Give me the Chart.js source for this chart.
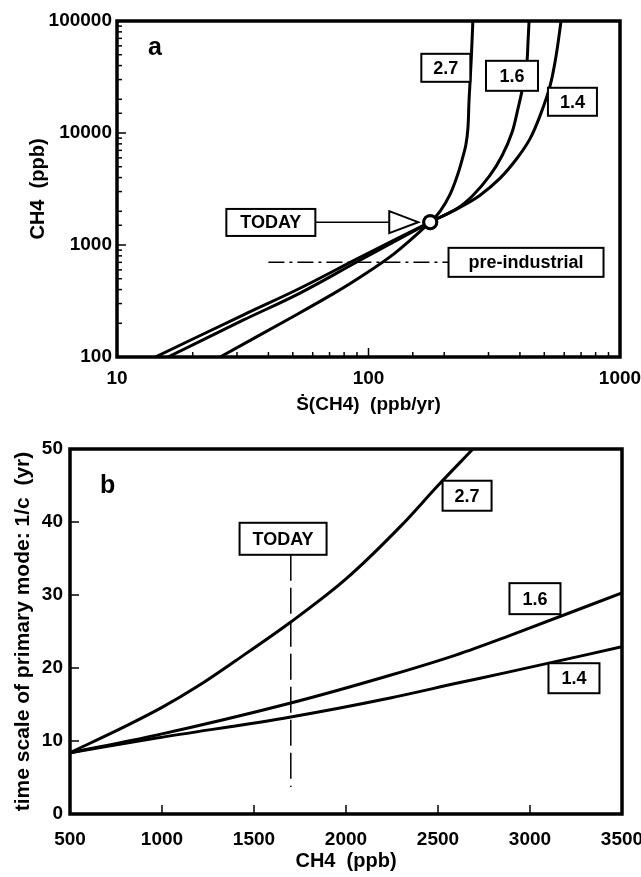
<!DOCTYPE html>
<html>
<head>
<meta charset="utf-8">
<script src="https://cdn.jsdelivr.net/npm/chart.js@4.4.1/dist/chart.umd.min.js"></script>
<style>
  body { margin: 0; background: #fff; }
  canvas { position: absolute; left: 0; }
  #chartA { top: 0; }
  #chartB { top: 420px; }
</style>
</head>
<body>
<canvas id="chartA" width="641" height="420"></canvas>
<canvas id="chartB" width="641" height="457"></canvas>
<script>
// ---- panel a : CH4 vs source rate (log-log) ----
const a27_S = [25.7, 48.8, 72, 92.5, 127, 176, 192.5, 211, 227, 237.5, 244, 248.5, 251, 256, 260];
const a27_C = [100, 222, 364, 515, 843, 1600, 1995, 2830, 4350, 6170, 7900, 11000, 19400, 44200, 100000];
const a16_S = [15.95, 31.7, 53.4, 92.5, 176, 225, 260, 304, 340, 372, 393, 408, 419, 427, 431, 435];
const a16_C = [100, 213, 372, 731, 1600, 2120, 2770, 4180, 6290, 10100, 16500, 23900, 32400, 44100, 66500, 100000];
const a14_S = [14.2, 31.7, 53.4, 92.5, 176, 231, 277, 333, 389, 439, 481, 527, 557, 583];
const a14_C = [100, 237, 411, 776, 1600, 2170, 2770, 3930, 5920, 8910, 14300, 26400, 48900, 100000];
const todayS = 176, todayC = 1600;
const preIndS = [40, 209];
const preIndC = 700;
const aXTicks = [10, 100, 1000];
const aYTicks = [100, 1000, 10000, 100000];

// ---- panel b : time scale vs CH4 ----
const b27_C = [500, 800, 1000, 1200, 1400, 1700, 2000, 2300, 2500, 2690];
const b27_T = [8.4, 12.0, 14.6, 17.6, 21.0, 26.3, 32.2, 39.5, 45, 50];
const b16_C = [500, 970, 1700, 2240, 2600, 2875, 3500];
const b16_T = [8.4, 10.8, 15.2, 19, 21.8, 24.3, 30.3];
const b14_C = [500, 970, 1700, 2240, 2600, 2875, 3500];
const b14_T = [8.4, 10.4, 13.3, 15.9, 17.9, 19.4, 22.9];
const todayCH4 = 1700;
const todayLine = [35.5, 3.7];

const FONT = "'Liberation Sans', Arial, Helvetica, sans-serif";
Chart.defaults.font.family = FONT;
Chart.defaults.color = '#000';

function pts(xs, ys) { return xs.map((x, i) => ({x: x, y: ys[i]})); }
function isPow10(v) { const l = Math.log10(v); return Math.abs(l - Math.round(l)) < 1e-9; }

// steep curves in panel a use plain bezier tension, panel b uses monotone
function curve(data, smooth) {
  const ds = { data: data, showLine: true, borderColor: '#000', borderWidth: 3,
               pointRadius: 0, fill: false, order: 2 };
  if (smooth === 'monotone') ds.cubicInterpolationMode = 'monotone';
  else ds.tension = 0.35;
  return ds;
}

function box(ctx, cx, cy, w, h, text) {
  ctx.fillStyle = '#fff';
  ctx.fillRect(cx - w / 2, cy - h / 2, w, h);
  ctx.strokeStyle = '#000';
  ctx.lineWidth = 2;
  ctx.strokeRect(cx - w / 2, cy - h / 2, w, h);
  ctx.fillStyle = '#000';
  ctx.font = 'bold 18px ' + FONT;
  ctx.textAlign = 'center';
  ctx.textBaseline = 'middle';
  ctx.fillText(text, cx, cy + 1);
}

// frame, inward ticks and labels
const decor = {
  id: 'decor',
  afterDatasetsDraw(chart, args, o) {
    const {ctx, chartArea: a, scales: {x, y}} = chart;
    ctx.save();
    ctx.strokeStyle = '#000';
    ctx.lineWidth = 1.5;
    x.ticks.forEach(t => {
      const px = x.getPixelForValue(t.value);
      const len = o.major(t.value) ? 9 : 5;
      ctx.beginPath(); ctx.moveTo(px, a.bottom); ctx.lineTo(px, a.bottom - len); ctx.stroke();
    });
    y.ticks.forEach(t => {
      const py = y.getPixelForValue(t.value);
      const len = o.major(t.value) ? 9 : 5;
      ctx.beginPath(); ctx.moveTo(a.left, py); ctx.lineTo(a.left + len, py); ctx.stroke();
    });
    ctx.lineWidth = 3.5;
    ctx.strokeRect(a.left, a.top, a.right - a.left, a.bottom - a.top);

    o.extra && o.extra(ctx, x, y, a);
    o.boxes.forEach(b => box(ctx, x.getPixelForValue(b.x), y.getPixelForValue(b.y), b.w, b.h, b.text));

    ctx.fillStyle = '#000';
    ctx.font = 'bold 25px ' + FONT;
    ctx.textAlign = 'left';
    ctx.textBaseline = 'alphabetic';
    ctx.fillText(o.panel, a.left + o.panelPos[0], a.top + o.panelPos[1]);
    ctx.restore();
  }
};

function fixAxis(prop, size) {
  return function (s) { s[prop] = size; s.paddingLeft = 0; s.paddingRight = 0; s.paddingTop = 0; s.paddingBottom = 0; };
}

// ---------- chart a ----------
new Chart(document.getElementById('chartA'), {
  type: 'scatter',
  data: {
    datasets: [
      { data: [{x: todayS, y: todayC}], pointRadius: 6.5, pointBackgroundColor: '#fff',
        pointBorderColor: '#000', pointBorderWidth: 3, order: 0 },
      { data: pts(preIndS, [preIndC, preIndC]), showLine: true, borderColor: '#000',
        borderWidth: 1.5, borderDash: [16, 5, 3, 5], pointRadius: 0, order: 1 },
      curve(pts(a27_S, a27_C)),
      curve(pts(a16_S, a16_C)),
      curve(pts(a14_S, a14_C))
    ]
  },
  options: {
    responsive: false,
    animation: false,
    layout: { padding: { top: 21, right: 21, left: 0, bottom: 0 } },
    plugins: {
      legend: { display: false },
      tooltip: { enabled: false },
      decor: {
        major: v => isPow10(v),
        panel: 'a', panelPos: [31, 34],
        boxes: [
          { x: 203, y: 38200, w: 49, h: 28, text: '2.7' },
          { x: 372, y: 32400, w: 52, h: 30, text: '1.6' },
          { x: 647, y: 19000, w: 49, h: 28, text: '1.4' },
          { x: 40.9, y: 1590, w: 89, h: 27, text: 'TODAY' },
          { x: 423, y: 700, w: 155, h: 29, text: 'pre-industrial' }
        ],
        extra: (ctx, x, y) => {
          const bx = x.getPixelForValue(40.9) + 44.5;
          const cx = x.getPixelForValue(todayS);
          const cy = y.getPixelForValue(todayC);
          const tip = cx - 12, base = tip - 29;
          ctx.lineWidth = 1.5;
          ctx.beginPath(); ctx.moveTo(bx, cy); ctx.lineTo(base, cy); ctx.stroke();
          ctx.lineWidth = 2;
          ctx.beginPath(); ctx.moveTo(base, cy - 11); ctx.lineTo(tip, cy); ctx.lineTo(base, cy + 11);
          ctx.closePath(); ctx.fillStyle = '#fff'; ctx.fill(); ctx.stroke();
          // redraw the circle on top of the arrow
          ctx.beginPath(); ctx.arc(cx, cy, 6.5, 0, Math.PI * 2);
          ctx.fillStyle = '#fff'; ctx.fill(); ctx.lineWidth = 3; ctx.stroke();
        }
      }
    },
    scales: {
      x: {
        type: 'logarithmic', min: 10, max: 1000,
        grid: { display: false, drawTicks: false },
        border: { display: false },
        ticks: { autoSkip: false, maxRotation: 0, padding: 10,
                 font: { size: 19, weight: 'bold' },
                 callback: v => aXTicks.includes(v) ? String(v) : '' },
        title: { display: true, text: 'Ṡ(CH4)  (ppb/yr)', font: { size: 19, weight: 'bold' },
                 padding: { top: 0, bottom: 4 } },
        afterFit: fixAxis('height', 63)
      },
      y: {
        type: 'logarithmic', min: 100, max: 100000,
        grid: { display: false, drawTicks: false },
        border: { display: false },
        ticks: { autoSkip: false, padding: 5,
                 font: { size: 19, weight: 'bold' },
                 callback: v => aYTicks.includes(v) ? String(v) : '' },
        title: { display: true, text: 'CH4  (ppb)', font: { size: 20, weight: 'bold' },
                 padding: { top: 26, bottom: 0 } },
        afterFit: fixAxis('width', 117)
      }
    }
  },
  plugins: [decor]
});

// ---------- chart b ----------
new Chart(document.getElementById('chartB'), {
  type: 'scatter',
  data: {
    datasets: [
      { data: pts([todayCH4, todayCH4], todayLine), showLine: true, borderColor: '#000',
        borderWidth: 1.5, borderDash: [26, 7], pointRadius: 0, order: 1 },
      curve(pts(b27_C, b27_T), 'monotone'),
      curve(pts(b16_C, b16_T), 'monotone'),
      curve(pts(b14_C, b14_T), 'monotone')
    ]
  },
  options: {
    responsive: false,
    animation: false,
    layout: { padding: { top: 29, right: 19, left: 0, bottom: 0 } },
    plugins: {
      legend: { display: false },
      tooltip: { enabled: false },
      decor: {
        major: () => true,
        panel: 'b', panelPos: [30, 44],
        boxes: [
          { x: 2658, y: 43.6, w: 49, h: 30, text: '2.7' },
          { x: 3027, y: 29.5, w: 51, h: 31, text: '1.6' },
          { x: 3239, y: 18.6, w: 51, h: 30, text: '1.4' },
          { x: 1658, y: 37.7, w: 87, h: 32, text: 'TODAY' }
        ]
      }
    },
    scales: {
      x: {
        type: 'linear', min: 500, max: 3500,
        grid: { display: false, drawTicks: false },
        border: { display: false },
        ticks: { stepSize: 500, maxRotation: 0, padding: 14, font: { size: 19, weight: 'bold' },
                 callback: v => String(v) },
        title: { display: true, text: 'CH4  (ppb)', font: { size: 20, weight: 'bold' },
                 padding: { top: 0, bottom: 4 } },
        afterFit: fixAxis('height', 63)
      },
      y: {
        type: 'linear', min: 0, max: 50,
        grid: { display: false, drawTicks: false },
        border: { display: false },
        ticks: { stepSize: 10, padding: 7, font: { size: 19, weight: 'bold' } },
        title: { display: true, text: 'time scale of primary mode: 1/c  (yr)',
                 font: { size: 21, weight: 'bold' }, padding: { top: 11, bottom: 0 } },
        afterFit: fixAxis('width', 70)
      }
    }
  },
  plugins: [decor]
});
</script>
</body>
</html>
